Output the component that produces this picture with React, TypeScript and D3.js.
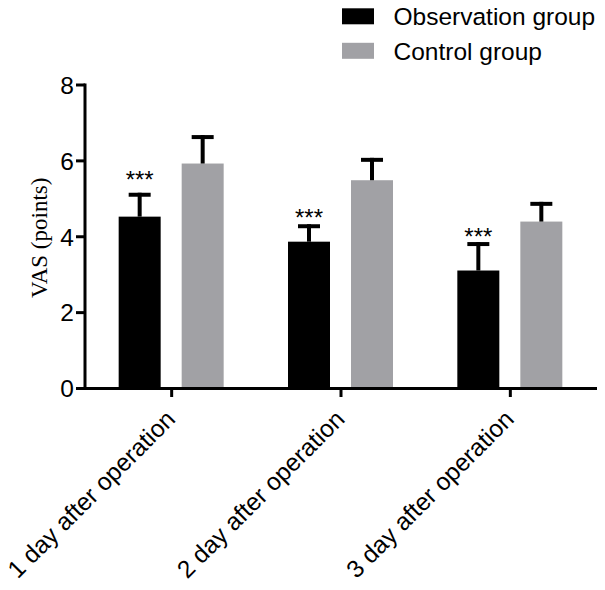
import React from "react";
import * as d3 from "d3";

const categories = ["1 day after operation", "2 day after operation", "3 day after operation"];
const seriesNames = ["Observation group", "Control group"];
const observationMeans = [4.53, 3.87, 3.11];
const observationSD = [0.63, 0.46, 0.75];
const controlMeans = [5.93, 5.49, 4.4];
const controlSD = [0.75, 0.59, 0.52];
const significance = ["***", "***", "***"];
const significanceY = [5.65, 4.64, 4.13];
const yTicks = [0, 2, 4, 6, 8];
const colors = ["#000000", "#a1a1a5"];

const W = 605;
const H = 590;

export default function App() {
  const x = d3.scaleBand<string>().domain(categories).range([87, 595]).padding(0);
  const inner = d3.scaleBand<string>().domain(seriesNames).range([-53, 52]).paddingInner(1 / 3).paddingOuter(0);
  const y = d3.scaleLinear().domain([0, 8]).range([388.5, 85]);

  const series = [
    { name: seriesNames[0], means: observationMeans, sd: observationSD, color: colors[0] },
    { name: seriesNames[1], means: controlMeans, sd: controlSD, color: colors[1] },
  ];

  const axisX0 = 85;
  const font = "Liberation Sans, Arial, Helvetica, sans-serif";

  return (
    <svg width={W} height={H} style={{ position: "absolute", left: 0, top: 0, background: "#fff" }}>
      <rect x={0} y={0} width={W} height={H} fill="#fff" />
      {/* bars */}
      {series.map((s) =>
        categories.map((c, i) => {
          const cx = (x(c) as number) + x.bandwidth() / 2;
          const bx = cx + (inner(s.name) as number);
          const bw = inner.bandwidth();
          const top = y(s.means[i]);
          const errTop = y(s.means[i] + s.sd[i]);
          const mid = bx + bw / 2;
          return (
            <g key={s.name + c}>
              <rect x={bx} y={top} width={bw} height={y(0) - top} fill={s.color} />
              <line x1={mid} x2={mid} y1={top} y2={errTop} stroke="#000" strokeWidth={4} />
              <line x1={mid - 11} x2={mid + 11} y1={errTop + 2} y2={errTop + 2} stroke="#000" strokeWidth={4} />
            </g>
          );
        })
      )}
      {/* significance */}
      {categories.map((c, i) => {
        const cx = (x(c) as number) + x.bandwidth() / 2;
        const mid = cx + (inner(seriesNames[0]) as number) + inner.bandwidth() / 2;
        return (
          <text key={"sig" + c} x={mid} y={y(significanceY[i]) + 13.5} textAnchor="middle" fontFamily={font} fontSize={24} fill="#000">
            {significance[i]}
          </text>
        );
      })}
      {/* y axis */}
      <line x1={axisX0} x2={axisX0} y1={y(8) - 1.5} y2={y(0) + 1.5} stroke="#000" strokeWidth={3} />
      {yTicks.map((t) => (
        <g key={"yt" + t}>
          <line x1={axisX0 - 9} x2={axisX0} y1={y(t)} y2={y(t)} stroke="#000" strokeWidth={3} />
          <text x={axisX0 - 11} y={y(t)} dy="0.36em" textAnchor="end" fontFamily={font} fontSize={24.5} fill="#000">
            {t}
          </text>
        </g>
      ))}
      <text
        transform={`translate(46.5, ${(y(0) + y(8)) / 2 + 1}) rotate(-90)`}
        textAnchor="middle"
        fontFamily="Liberation Serif, Times New Roman, serif"
        fontSize={23}
        fill="#000"
      >
        VAS (points)
      </text>
      {/* x axis */}
      <line x1={axisX0 - 1.5} x2={597} y1={y(0)} y2={y(0)} stroke="#000" strokeWidth={3} />
      {categories.map((c) => {
        const cx = (x(c) as number) + x.bandwidth() / 2;
        return (
          <g key={"xt" + c}>
            <line x1={cx} x2={cx} y1={y(0)} y2={y(0) + 8.5} stroke="#000" strokeWidth={3} />
            <text
              transform={`translate(${cx - 1}, ${y(0) + 26}) rotate(-45)`}
              textAnchor="end"
              dy="0.35em"
              fontFamily={font}
              fontSize={24.5}
              fill="#000"
            >
              {c}
            </text>
          </g>
        );
      })}
      {/* legend */}
      {series.map((s, i) => (
        <g key={"lg" + s.name} transform={`translate(342, ${16.3 + i * 34.5})`}>
          <rect x={0} y={-8} width={32} height={16} fill={s.color} />
          <text x={51.5} y={0} dy="0.36em" fontFamily={font} fontSize={24.5} fill="#000">
            {s.name}
          </text>
        </g>
      ))}
    </svg>
  );
}
